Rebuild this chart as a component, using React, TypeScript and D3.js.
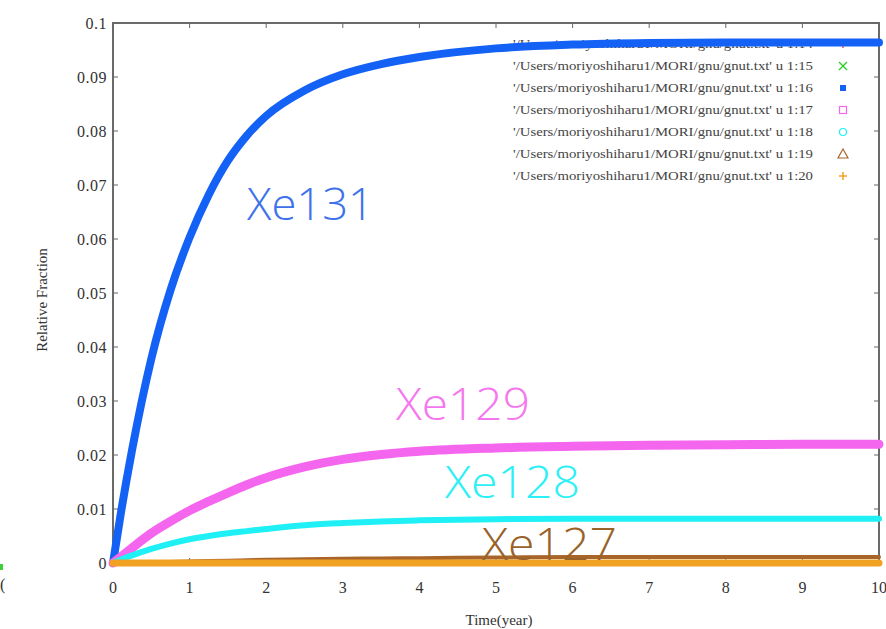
import React from "react";
import * as d3 from "d3";

const times = [0, 0.1, 0.25, 0.5, 0.75, 1, 1.25, 1.5, 1.75, 2, 2.5, 3, 3.5, 4, 5, 6, 7, 8, 9, 10];
const xe131 = [0, 0.009, 0.021, 0.0378, 0.0505, 0.0603, 0.0682, 0.0745, 0.0792, 0.0828, 0.0875, 0.0905, 0.0924, 0.0937, 0.0953, 0.096, 0.0963, 0.0964, 0.0964, 0.0964];
const xe129 = [0, 0.0011, 0.0028, 0.0055, 0.0077, 0.0097, 0.0114, 0.013, 0.0145, 0.0158, 0.0178, 0.0192, 0.0201, 0.0207, 0.0213, 0.0216, 0.0218, 0.0219, 0.022, 0.022];
const xe128 = [0, 0.0006, 0.0014, 0.0026, 0.0036, 0.0044, 0.005, 0.0055, 0.0059, 0.0063, 0.007, 0.0074, 0.0077, 0.0079, 0.0081, 0.0082, 0.0082, 0.0082, 0.0082, 0.0082];
const xe127 = [0, 0.00003, 0.0001, 0.00015, 0.0002, 0.0003, 0.00035, 0.0004, 0.0005, 0.0006, 0.0007, 0.0008, 0.00085, 0.0009, 0.001, 0.0011, 0.0011, 0.0011, 0.0011, 0.0011];
const col14 = [0, 0, 0, 0.00005, 0.00005, 0.00005, 0.00005, 0.00005, 0.00005, 0.00005, 0.00005, 0.00005, 0.00005, 0.00005, 0.00005, 0.00005, 0.00005, 0.00005, 0.00005, 0.00005];
const col15 = [0, 0, 0, 0.00002, 0.00002, 0.00002, 0.00002, 0.00002, 0.00002, 0.00002, 0.00002, 0.00002, 0.00002, 0.00002, 0.00002, 0.00002, 0.00002, 0.00002, 0.00002, 0.00002];
const col20 = [0, 0, 0, 0, 0, 0, 0, 0, 0, 0, 0, 0, 0, 0, 0, 0, 0, 0, 0, 0];

const xTicks = [0, 1, 2, 3, 4, 5, 6, 7, 8, 9, 10];
const yTicks = [0, 0.01, 0.02, 0.03, 0.04, 0.05, 0.06, 0.07, 0.08, 0.09, 0.1];
const yTickLabels = ["0", "0.01", "0.02", "0.03", "0.04", "0.05", "0.06", "0.07", "0.08", "0.09", "0.1"];
const legendCols = ["1:14", "1:15", "1:16", "1:17", "1:18", "1:19", "1:20"];
const legendFile = "'/Users/moriyoshiharu1/MORI/gnu/gnut.txt' u ";

const W = 886, H = 629;
const x = d3.scaleLinear().domain([0, 10]).range([113, 879]);
const y = d3.scaleLinear().domain([0, 0.1]).range([563, 23]);

const line = d3
  .line<number>()
  .x((_, i) => x(times[i]))
  .y((d) => y(d))
  .curve(d3.curveMonotoneX);

const series = [
  { vals: col14, color: "#ff2020", width: 3 },
  { vals: col15, color: "#22cc22", width: 3 },
  { vals: xe131, color: "#1462f5", width: 8 },
  { vals: xe129, color: "#f566ef", width: 9 },
  { vals: xe128, color: "#1ef0f5", width: 6 },
  { vals: xe127, color: "#a8652a", width: 4 },
  { vals: col20, color: "#f2a223", width: 7 },
];

const labels = [
  { text: "Xe131", color: "#3d72ea", x: 247, y: 220, w: 127 },
  { text: "Xe129", color: "#f577ef", x: 396, y: 420, w: 134 },
  { text: "Xe128", color: "#2cf0f5", x: 445, y: 498, w: 135 },
  { text: "Xe127", color: "#9a6228", x: 482, y: 560, w: 135 },
];

function Sym({ i, cx, cy }: { i: number; cx: number; cy: number }) {
  const c = series[i].color;
  const s = 4;
  switch (i) {
    case 0:
      return <path d={`M${cx - s},${cy}H${cx + s}M${cx},${cy - s}V${cy + s}`} stroke={c} strokeWidth={1.2} />;
    case 1:
      return <path d={`M${cx - s},${cy - s}L${cx + s},${cy + s}M${cx - s},${cy + s}L${cx + s},${cy - s}`} stroke={c} strokeWidth={1.2} />;
    case 2:
      return <rect x={cx - 3} y={cy - 3} width={6} height={6} fill={c} />;
    case 3:
      return <rect x={cx - 3.5} y={cy - 3.5} width={7} height={7} fill="none" stroke={c} strokeWidth={1.2} />;
    case 4:
      return <circle cx={cx} cy={cy} r={3.5} fill="none" stroke={c} strokeWidth={1.2} />;
    case 5:
      return <path d={`M${cx},${cy - 5}L${cx + 5},${cy + 4}L${cx - 5},${cy + 4}Z`} fill="none" stroke={c} strokeWidth={1.2} />;
    default:
      return <path d={`M${cx - s},${cy}H${cx + s}M${cx},${cy - s}V${cy + s}`} stroke={c} strokeWidth={1.5} />;
  }
}

export default function App() {
  const [x0, x1] = x.range();
  const [yb, yt] = y.range();
  const serif = "'Liberation Serif', 'DejaVu Serif', serif";
  return (
    <svg width={W} height={H} style={{ position: "absolute", left: 0, top: 0, background: "#fff" }}>
      <rect x={0} y={0} width={W} height={H} fill="#fff" />
      {/* frame */}
      <rect x={x0} y={yt} width={x1 - x0} height={yb - yt} fill="none" stroke="#6a6a6a" strokeWidth={2} />
      {yTicks.map((t) => (
        <g key={"y" + t}>
          <line x1={x0} x2={x0 + 5} y1={y(t)} y2={y(t)} stroke="#666" strokeWidth={1} />
          <line x1={x1} x2={x1 - 5} y1={y(t)} y2={y(t)} stroke="#666" strokeWidth={1} />
        </g>
      ))}
      {xTicks.map((t) => (
        <g key={"x" + t}>
          <line x1={x(t)} x2={x(t)} y1={yb} y2={yb - 5} stroke="#666" strokeWidth={1} />
          <line x1={x(t)} x2={x(t)} y1={yt} y2={yt + 5} stroke="#666" strokeWidth={1} />
        </g>
      ))}
      {yTicks.map((t, i) => (
        <text key={"yl" + t} x={107} y={y(t)} dy="0.35em" textAnchor="end" fontFamily={serif} fontSize={16} fill="#333" letterSpacing={0.5}>
          {yTickLabels[i]}
        </text>
      ))}
      {xTicks.map((t) => (
        <text key={"xl" + t} x={x(t)} y={587} dy="0.35em" textAnchor="middle" fontFamily={serif} fontSize={16} fill="#333">
          {String(t)}
        </text>
      ))}
      <text x={499} y={620} dy="0.35em" textAnchor="middle" fontFamily={serif} fontSize={15} fill="#333">
        Time(year)
      </text>
      <text transform="translate(42,300) rotate(-90)" textAnchor="middle" dy="0.35em" fontFamily={serif} fontSize={15} fill="#333">
        Relative Fraction
      </text>
      {/* legend */}
      {legendCols.map((c, i) => (
        <g key={"lg" + c}>
          <text x={813} y={44 + i * 22} dy="0.35em" textAnchor="end" fontFamily={serif} fontSize={12} fill="#444" textLength={300} lengthAdjust="spacingAndGlyphs">
            {legendFile + c}
          </text>
          <Sym i={i} cx={843} cy={44 + i * 22} />
        </g>
      ))}
      {/* series */}
      {series.map((s, i) => (
        <path key={"s" + i} d={line(s.vals) || ""} fill="none" stroke={s.color} strokeWidth={s.width} strokeLinejoin="round" strokeLinecap="round" />
      ))}
      {labels.map((l) => (
        <text key={l.text} x={l.x} y={l.y} fontFamily="'Open Sans', 'DejaVu Sans', sans-serif" fontWeight={300} fontSize={44} fill={l.color} textLength={l.w} lengthAdjust="spacingAndGlyphs">
          {l.text}
        </text>
      ))}
      {/* neighbouring-image artefacts at left edge */}
      <rect x={0} y={564} width={3} height={6} fill="#3ad13a" />
      <text x={0} y={590} fontFamily={serif} fontSize={16} fill="#333">(</text>
    </svg>
  );
}
